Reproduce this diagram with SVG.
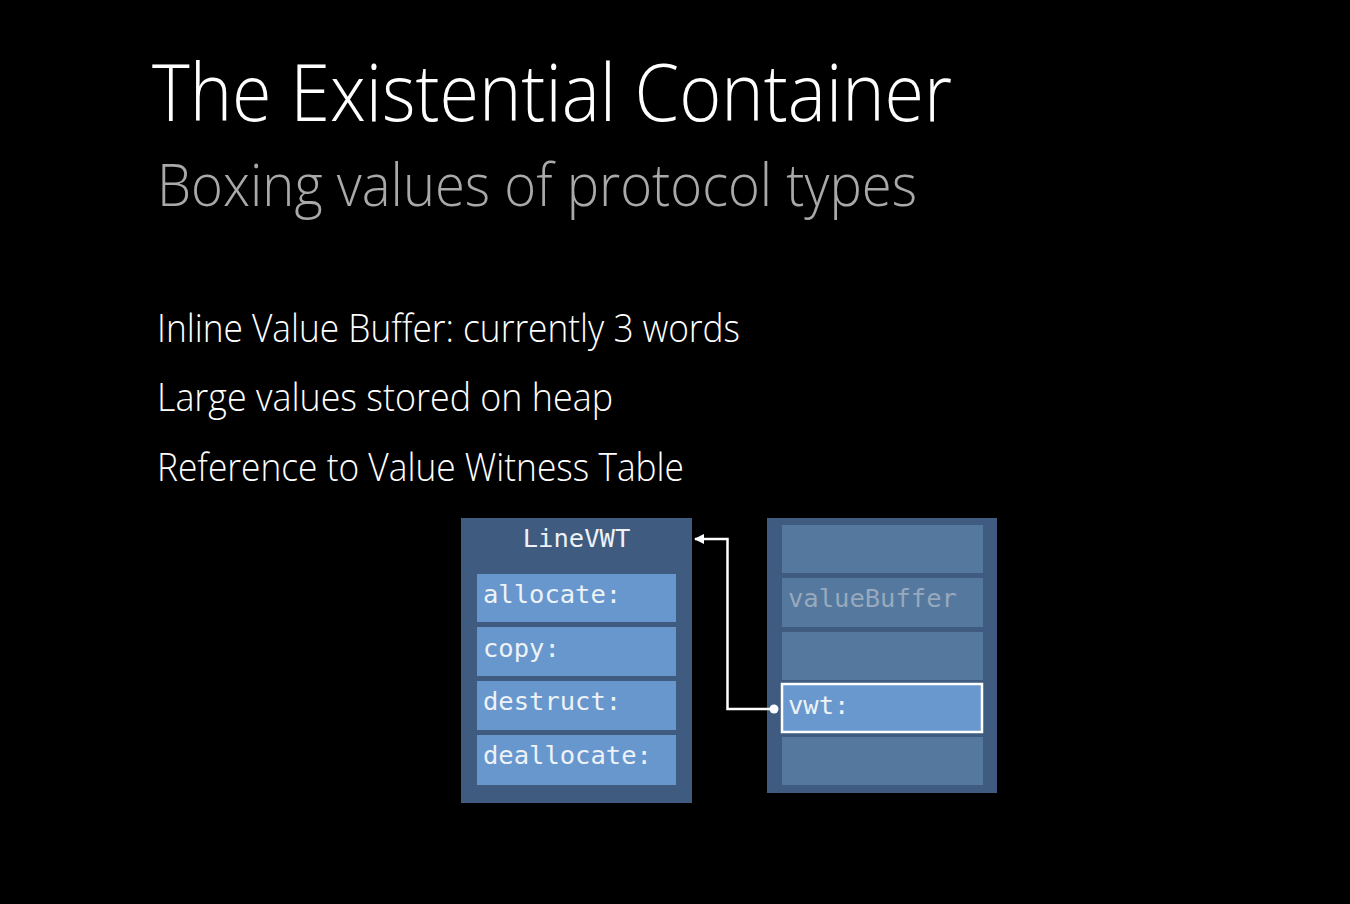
<svg xmlns="http://www.w3.org/2000/svg" width="1350" height="904" viewBox="0 0 1350 904">
<style>
.sans{font-family:"Open Sans","Lato","Liberation Sans",sans-serif;font-weight:300}
.mono{font-family:"DejaVu Sans Mono","Liberation Mono",monospace;font-size:25.5px;fill:#eef2f7}
.outer{fill:#3f5b80}
.rowL{fill:#6797cd}
.rowR{fill:#55789f}
</style>
<defs>
<marker id="arr" markerWidth="10" markerHeight="10" refX="9" refY="5" orient="auto" markerUnits="userSpaceOnUse">
<path d="M0,0 L10,5 L0,10 z" fill="#ffffff"/>
</marker>
</defs>
<rect x="0" y="0" width="1350" height="904" fill="#000000"/>
<text class="sans" x="152" y="121" font-size="80" fill="#ffffff" textLength="800" lengthAdjust="spacingAndGlyphs">The Existential Container</text>
<text class="sans" x="157" y="206" font-size="58" fill="#a9a9a9" textLength="760" lengthAdjust="spacingAndGlyphs">Boxing values of protocol types</text>
<text class="sans" x="157" y="342" font-size="39" fill="#ffffff" textLength="583" lengthAdjust="spacingAndGlyphs">Inline Value Buffer: currently 3 words</text>
<text class="sans" x="157" y="411" font-size="39" fill="#ffffff" textLength="456" lengthAdjust="spacingAndGlyphs">Large values stored on heap</text>
<text class="sans" x="157" y="481" font-size="39" fill="#ffffff" textLength="527" lengthAdjust="spacingAndGlyphs">Reference to Value Witness Table</text>

<g id="linevwt">
<rect class="outer" x="461" y="518" width="231" height="285"/>
<text class="mono" x="576.5" y="547" text-anchor="middle">LineVWT</text>
<rect class="rowL" x="477" y="574" width="199" height="48"/>
<text class="mono" x="483" y="603">allocate:</text>
<rect class="rowL" x="477" y="627" width="199" height="49"/>
<text class="mono" x="483" y="657">copy:</text>
<rect class="rowL" x="477" y="681" width="199" height="49"/>
<text class="mono" x="483" y="710">destruct:</text>
<rect class="rowL" x="477" y="735" width="199" height="50"/>
<text class="mono" x="483" y="764">deallocate:</text>
</g>

<g id="container">
<rect class="outer" x="767" y="518" width="230" height="275"/>
<rect class="rowR" x="782" y="525" width="201" height="48"/>
<rect class="rowR" x="782" y="578" width="201" height="49"/>
<text class="mono" x="788" y="607" style="fill:#98a9bd">valueBuffer</text>
<rect class="rowR" x="782" y="632" width="201" height="48"/>
<rect x="782" y="684" width="200" height="48" fill="#6898cd" stroke="#ffffff" stroke-width="2.5"/>
<text class="mono" x="788" y="714">vwt:</text>
<rect class="rowR" x="782" y="737" width="201" height="48"/>
</g>

<g id="connectors">
<polyline points="774,709 727.5,709 727.5,539 695,539" fill="none" stroke="#ffffff" stroke-width="2.5" marker-end="url(#arr)"/>
<circle cx="774" cy="709" r="4.5" fill="#ffffff"/>
</g>
</svg>
